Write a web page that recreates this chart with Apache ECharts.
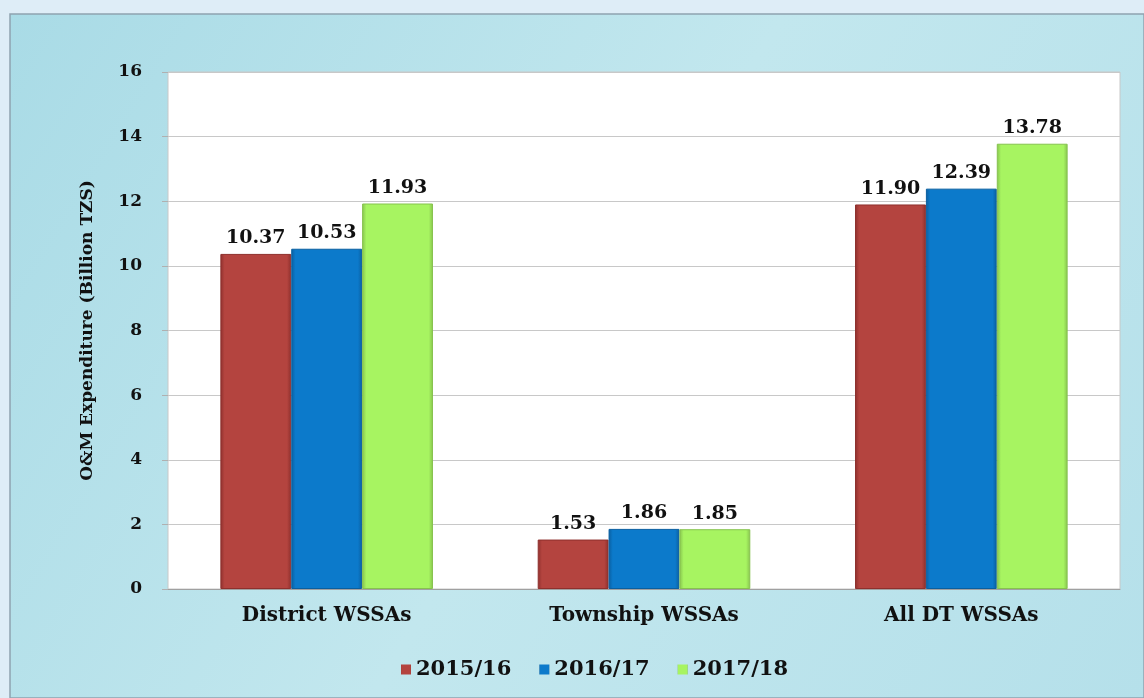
<!DOCTYPE html>
<html>
<head>
<meta charset="utf-8">
<script src="https://cdn.jsdelivr.net/npm/echarts@6/dist/echarts.min.js"></script>
<style>
html,body{margin:0;padding:0;background:#deedf7;}
#c{width:1144px;height:698px;}
</style>
</head>
<body>
<div id="c"></div>
<script>
const categories = ['District WSSAs', 'Township WSSAs', 'All DT WSSAs'];
const seriesNames = ['2015/16', '2016/17', '2017/18'];
const values2015 = [10.37, 1.53, 11.90];
const values2016 = [10.53, 1.86, 12.39];
const values2017 = [11.93, 1.85, 13.78];
const yTicks = [0, 2, 4, 6, 8, 10, 12, 14, 16];

const FONT = '"DejaVu Serif", serif';
const chart = echarts.init(document.getElementById('c'), null, {renderer: 'canvas'});

function barGrad(edge, main) {
  return new echarts.graphic.LinearGradient(0, 0, 1, 0, [
    {offset: 0, color: edge},
    {offset: 0.06, color: main},
    {offset: 0.94, color: main},
    {offset: 1, color: edge}
  ]);
}
const colors = [
  {edge: '#8e302d', main: '#b4443f', legend: '#c0393a'},
  {edge: '#0a5fa0', main: '#0c7acb', legend: '#1a86d6'},
  {edge: '#86c24e', main: '#a7f461', legend: '#b4f05e'}
];
const data = [values2015, values2016, values2017];

const series = data.map((vals, i) => ({
  name: seriesNames[i],
  type: 'bar',
  barGap: '0%',
  barCategoryGap: '33%',
  data: vals,
  itemStyle: {
    color: barGrad(colors[i].edge, colors[i].main),
    borderColor: colors[i].edge,
    borderWidth: 1
  },
  label: {
    show: true,
    position: 'top',
    distance: 6,
    formatter: p => p.value.toFixed(2),
    fontFamily: FONT,
    fontWeight: 'bold',
    fontSize: 19,
    color: '#111'
  }
}));

chart.setOption({
  animation: false,
  backgroundColor: 'transparent',
  color: colors.map(c => c.legend),
  graphic: [
    {type: 'rect', z: -10, silent: true, shape: {x: 10, y: 14, width: 1134, height: 684},
      style: {fill: new echarts.graphic.LinearGradient(0, 0, 1, 1, [
        {offset: 0, color: '#a9dbe6'},
        {offset: 0.5, color: '#c2e7ee'},
        {offset: 1, color: '#b5e0ea'}
      ]), stroke: '#8fa3b0', lineWidth: 1.5}}
  ],
  grid: {
    left: 168, right: 24, top: 72, bottom: 109,
    show: true, backgroundColor: '#ffffff', borderColor: '#c8c8c8', borderWidth: 1
  },
  legend: {
    data: seriesNames,
    bottom: 13,
    left: 396,
    itemWidth: 10, itemHeight: 10, itemGap: 28,
    icon: 'rect',
    itemStyle: {borderWidth: 0},
    textStyle: {fontFamily: FONT, fontWeight: 'bold', fontSize: 21, color: '#111'}
  },
  xAxis: {
    type: 'category',
    data: categories,
    axisLine: {show: true, lineStyle: {color: '#a0a0a0'}},
    axisTick: {show: false},
    axisLabel: {margin: 17, fontFamily: FONT, fontWeight: 'bold', fontSize: 20, color: '#111'}
  },
  yAxis: {
    type: 'value',
    min: yTicks[0], max: yTicks[yTicks.length - 1], interval: 2,
    name: 'O&M Expenditure (Billion TZS)',
    nameLocation: 'middle',
    nameGap: 72,
    nameTextStyle: {fontFamily: FONT, fontWeight: 'bold', fontSize: 17, color: '#111'},
    axisLine: {show: false},
    axisTick: {show: true, length: 6, lineStyle: {color: '#b0b0b0'}},
    splitLine: {show: true, lineStyle: {color: '#c8c8c8', width: 1}},
    axisLabel: {margin: 26, fontFamily: FONT, fontWeight: 'bold', fontSize: 17, color: '#111'}
  },
  series: series
});
</script>
</body>
</html>
